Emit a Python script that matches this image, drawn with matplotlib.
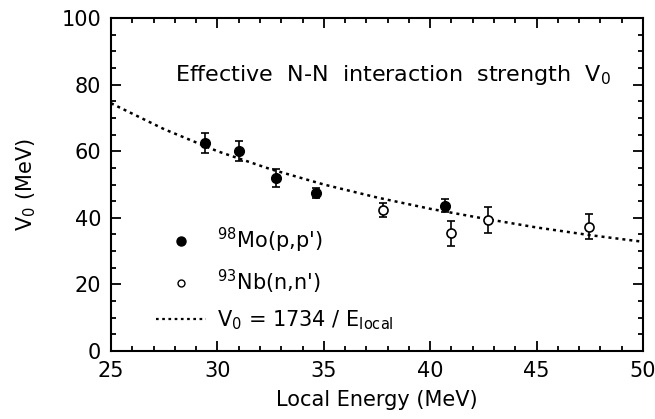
import numpy as np
import matplotlib.pyplot as plt
from matplotlib.lines import Line2D

plt.rcParams['font.family'] = ['DejaVu Sans']
plt.rcParams['mathtext.default'] = 'regular'

# 98Mo(p,p') data
mo_energy = [29.4, 31.0, 32.75, 34.65, 40.7]
mo_v0 = [62.5, 60.2, 52.0, 47.5, 43.6]
mo_err = [3.0, 3.0, 2.6, 1.5, 2.0]

# 93Nb(n,n') data
nb_energy = [37.8, 41.0, 42.7, 47.45]
nb_v0 = [42.3, 35.3, 39.2, 37.3]
nb_err = [2.1, 3.8, 3.9, 3.8]

# dotted curve V0 = 1734 / E_local, as drawn in the figure
curve_energy = [25, 27.5, 30, 32.5, 35, 37.5, 40, 42.5, 45, 47.5, 50]
curve_v0 = [74.4, 66.6, 60.0, 54.6, 50.0, 46.1, 42.7, 39.8, 37.1, 34.8, 32.8]

fig = plt.figure(figsize=(6.55, 4.19), dpi=100)
ax = fig.add_axes([0.1695, 0.1623, 0.8122, 0.7947])

ax.plot(curve_energy, curve_v0, color='black', lw=1.8, linestyle=(0, (1.2, 1.6)))

ax.errorbar(mo_energy, mo_v0, yerr=mo_err, fmt='o', color='black',
            ms=7, capsize=2.6, elinewidth=1.2, capthick=1.2)
ax.errorbar(nb_energy, nb_v0, yerr=nb_err, fmt='o', color='black', mfc='white',
            mec='black', mew=1.2, ms=6.5, capsize=2.6, elinewidth=1.2, capthick=1.2)

ax.set_xlim(25, 50)
ax.set_ylim(0, 100)
ax.set_xticks(np.arange(25, 51, 5))
ax.set_xticks(np.arange(25, 51, 1), minor=True)
ax.set_yticks(np.arange(0, 101, 20))
ax.set_yticks(np.arange(0, 101, 5), minor=True)
ax.tick_params(which='both', direction='in', top=True, right=True, labelsize=15, width=1.3)
ax.tick_params(which='major', length=7, pad=7)
ax.tick_params(which='minor', length=3.8)
for s in ax.spines.values():
    s.set_linewidth(1.5)

ax.set_xlabel('Local Energy (MeV)', fontsize=15, labelpad=7)
ax.set_ylabel('V$_0$ (MeV)', fontsize=15, labelpad=17)

ax.text(28.0, 83.0, 'Effective  N-N  interaction  strength  V$_0$', fontsize=16, va='center')

handles = [
    Line2D([], [], marker='o', ls='none', color='black', ms=6.5),
    Line2D([], [], marker='o', ls='none', mfc='white', mec='black', ms=5),
    Line2D([], [], color='black', lw=1.6, ls=(0, (1.2, 1.6))),
]
labels = ["$^{98}$Mo(p,p')", "$^{93}$Nb(n,n')", 'V$_0$ = 1734 / E$_{local}$']
ax.legend(handles, labels, loc='lower left', bbox_to_anchor=(0.05, 0.0), frameon=False,
          fontsize=15, handlelength=2.4, labelspacing=0.62, handletextpad=0.5)

fig.savefig('out.png', dpi=100)
